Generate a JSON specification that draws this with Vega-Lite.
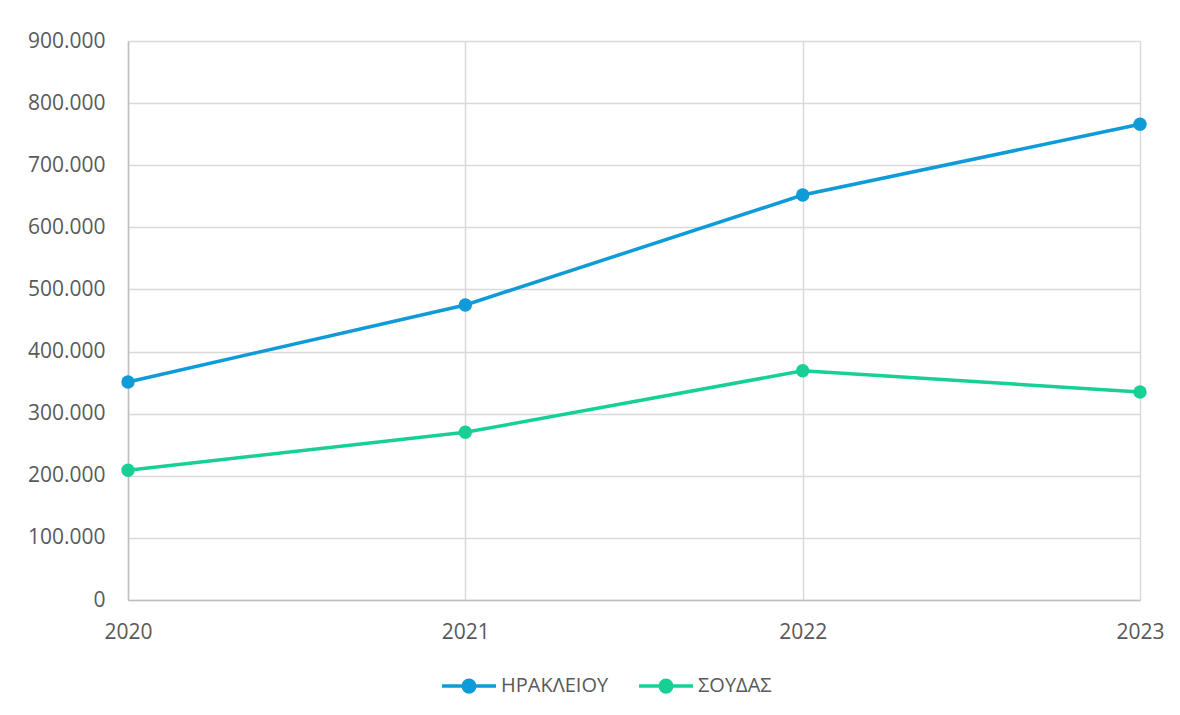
{
  "$schema": "https://vega.github.io/schema/vega-lite/v6.json",
  "width": 1012,
  "height": 559,
  "autosize": "none",
  "padding": {"left": 128, "top": 41, "right": 40, "bottom": 115},
  "background": "white",
  "config": {
    "view": {"stroke": null},
    "font": "Open Sans"
  },
  "data": {
    "values": [
      {"year": 2020, "series": "ΗΡΑΚΛΕΙΟΥ", "value": 351000},
      {"year": 2021, "series": "ΗΡΑΚΛΕΙΟΥ", "value": 475000},
      {"year": 2022, "series": "ΗΡΑΚΛΕΙΟΥ", "value": 652000},
      {"year": 2023, "series": "ΗΡΑΚΛΕΙΟΥ", "value": 766000},
      {"year": 2020, "series": "ΣΟΥΔΑΣ", "value": 209000},
      {"year": 2021, "series": "ΣΟΥΔΑΣ", "value": 270000},
      {"year": 2022, "series": "ΣΟΥΔΑΣ", "value": 369000},
      {"year": 2023, "series": "ΣΟΥΔΑΣ", "value": 335000}
    ]
  },
  "encoding": {
    "x": {
      "field": "year",
      "type": "quantitative",
      "scale": {"domain": [2020, 2023], "nice": false, "zero": false},
      "axis": {
        "title": null,
        "values": [2020, 2021, 2022, 2023],
        "format": "d",
        "ticks": false,
        "labelPadding": 21,
        "labelFontSize": 21,
        "labelColor": "#595959",
        "domainColor": "#BFBFBF",
        "domainWidth": 1.5,
        "gridColor": "#D9D9D9",
        "gridWidth": 1.5,
        "labelFlush": false
      }
    },
    "y": {
      "field": "value",
      "type": "quantitative",
      "scale": {"domain": [0, 900000], "nice": false},
      "axis": {
        "title": null,
        "values": [0, 100000, 200000, 300000, 400000, 500000, 600000, 700000, 800000, 900000],
        "labelExpr": "replace(format(datum.value, ','), /,/g, '.')",
        "ticks": false,
        "labelPadding": 23,
        "labelFontSize": 21,
        "labelColor": "#595959",
        "domainColor": "#BFBFBF",
        "domainWidth": 1.5,
        "gridColor": "#D9D9D9",
        "gridWidth": 1.5
      }
    },
    "color": {
      "field": "series",
      "type": "nominal",
      "scale": {"domain": ["ΗΡΑΚΛΕΙΟΥ", "ΣΟΥΔΑΣ"], "range": ["#0E9BD8", "#18CF95"]},
      "legend": {
        "title": null,
        "orient": "none",
        "legendX": 321,
        "legendY": 625,
        "direction": "horizontal",
        "symbolType": "M-1.5,0L-0.32,0M0.32,0L1.5,0M-0.32,0A0.32,0.32 0 1,0 0.32,0A0.32,0.32 0 1,0 -0.32,0Z",
        "symbolSize": 1296,
        "symbolStrokeWidth": 3.5,
        "labelFontSize": 20,
        "labelColor": "#595959",
        "columnPadding": 23,
        "labelOffset": 12,
        "encode": {
          "symbols": {
            "update": {
              "fill": {"scale": "color", "field": "value"},
              "stroke": {"scale": "color", "field": "value"},
              "strokeWidth": {"value": 3.5},
              "opacity": {"value": 1}
            }
          }
        }
      }
    }
  },
  "layer": [
    {"mark": {"type": "line", "strokeWidth": 3.5}},
    {"mark": {"type": "point", "filled": true, "size": 180, "opacity": 1}}
  ]
}
